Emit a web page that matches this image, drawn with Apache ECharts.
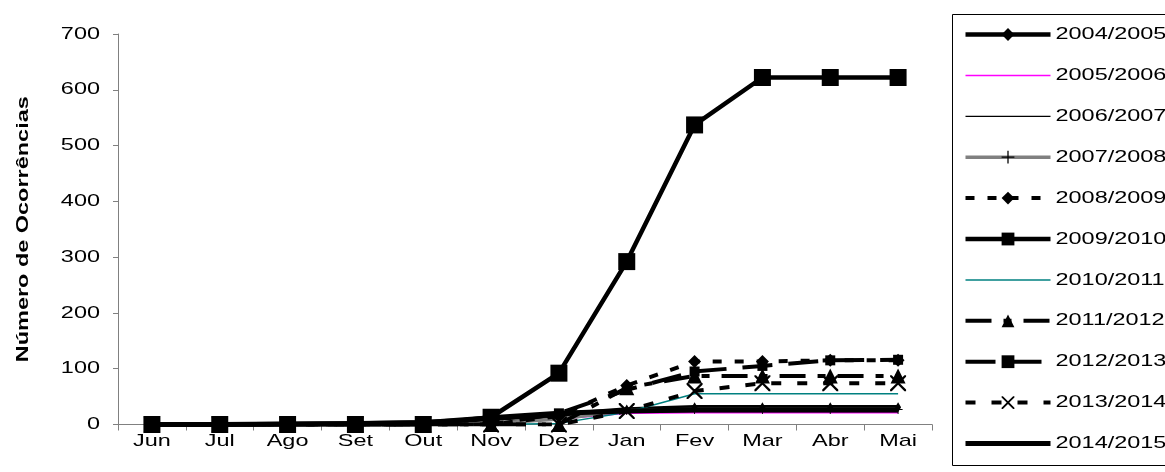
<!DOCTYPE html>
<html>
<head>
<meta charset="utf-8">
<script src="https://cdn.jsdelivr.net/npm/echarts@6/dist/echarts.min.js"></script>
<style>
  html, body { margin: 0; padding: 0; background: #fff; }
  #chart { width: 1165px; height: 472px; }
</style>
</head>
<body>
<div id="chart"></div>
<script>
// Months of the season (June to May)
const months = ['Jun', 'Jul', 'Ago', 'Set', 'Out', 'Nov', 'Dez', 'Jan', 'Fev', 'Mar', 'Abr', 'Mai'];

// Cumulative occurrences per season
const s2004_2005 = [0, 0, 1, 2, 4, 10, 18, 27, 31, 31, 31, 31];
const s2005_2006 = [0, 0, 0, 0, 0, 2, 10, 20, 21, 21, 21, 21];
const s2006_2007 = [0, 0, 0, 0, 0, 3, 14, 22, 23, 23, 23, 23];
const s2007_2008 = [0, 0, 0, 0, 0, 2, 10, 25, 27, 27, 27, 27];
const s2008_2009 = [0, 0, 0, 0, 0, 0, 15, 70, 113, 113, 115, 115];
const s2009_2010 = [0, 0, 0, 0, 0, 13, 92, 292, 537, 622, 622, 622];
const s2010_2011 = [0, 0, 0, 0, 0, 0, 2, 22, 55, 55, 55, 55];
const s2011_2012 = [0, 0, 0, 0, 0, 0, 0, 66, 87, 87, 87, 87];
const s2012_2013 = [0, 0, 0, 0, 0, 0, 20, 62, 95, 105, 115, 116];
const s2013_2014 = [0, 0, 0, 0, 0, 0, 0, 24, 60, 74, 74, 74];
const s2014_2015 = [0, 0, 1, 2, 3, 12, 20, 24, 26, 26, 26, 26];

const yTicks = { min: 0, max: 700, step: 100 };

const FONT = 'Liberation Sans, Arial, sans-serif';
// The labels use a wide-set lettering: glyphs are stretched along the text direction
const TEXT_STRETCH = 1.38;

const plusPath = 'path://M9,0H11V9H20V11H11V20H9V11H0V9H9Z';
const crossPath = 'path://M0,0L2,0L10,8L18,0L20,0L20,2L12,10L20,18L20,20L18,20L10,12L2,20L0,20L0,18L8,10L0,2Z';

function line(name, data, opts) {
  return Object.assign({
    name: name,
    type: 'line',
    data: data,
    symbol: 'none',
    animation: false,
    lineStyle: { color: '#000', width: 1 },
    itemStyle: { color: '#000' },
    emphasis: { disabled: true }
  }, opts);
}

const series = [
  line('2004/2005', s2004_2005, {
    lineStyle: { color: '#000', width: 4.5 },
    symbol: 'diamond', symbolSize: [6, 10]
  }),
  line('2005/2006', s2005_2006, {
    lineStyle: { color: '#FF00FF', width: 1.5 },
    itemStyle: { color: '#FF00FF' }
  }),
  line('2006/2007', s2006_2007, {
    lineStyle: { color: '#000', width: 1.2 }
  }),
  line('2007/2008', s2007_2008, {
    lineStyle: { color: '#808080', width: 3.5 },
    itemStyle: { color: '#000' },
    symbol: plusPath, symbolSize: 9
  }),
  line('2008/2009', s2008_2009, {
    lineStyle: { color: '#000', width: 4, type: [9, 13] },
    symbol: 'diamond', symbolSize: 13
  }),
  line('2009/2010', s2009_2010, {
    lineStyle: { color: '#000', width: 4.5 },
    symbol: 'rect', symbolSize: 17
  }),
  line('2010/2011', s2010_2011, {
    lineStyle: { color: '#008080', width: 1.5 },
    itemStyle: { color: '#008080' }
  }),
  line('2011/2012', s2011_2012, {
    lineStyle: { color: '#000', width: 4, type: [26, 12, 8, 12] },
    symbol: 'triangle', symbolSize: 15
  }),
  line('2012/2013', s2012_2013, {
    lineStyle: { color: '#000', width: 4, type: [30, 16] },
    symbol: 'rect', symbolSize: 10
  }),
  line('2013/2014', s2013_2014, {
    lineStyle: { color: '#000', width: 4, type: [10, 16] },
    symbol: crossPath, symbolSize: 16
  }),
  line('2014/2015', s2014_2015, {
    lineStyle: { color: '#000', width: 5 }
  })
];

// Legend entries: series drawn without markers show only their line
const legendData = series.map(s => (
  s.symbol === 'none'
    ? { name: s.name, itemStyle: { opacity: 0 } }
    : { name: s.name }
));

const chart = echarts.init(document.getElementById('chart'), null, { renderer: 'canvas' });

chart.setOption({
  animation: false,
  backgroundColor: '#fff',
  textStyle: { fontFamily: FONT },
  grid: { left: 118, right: 233, top: 34, bottom: 47.5, containLabel: false },
  xAxis: {
    type: 'category',
    data: months,
    boundaryGap: true,
    axisLine: { lineStyle: { color: '#808080', width: 1 } },
    axisTick: { show: true, length: 6, lineStyle: { color: '#808080' }, interval: 0 },
    axisLabel: { color: '#000', fontSize: 17, fontFamily: FONT, margin: 8, interval: 0 },
    splitLine: { show: false }
  },
  yAxis: {
    type: 'value',
    min: yTicks.min,
    max: yTicks.max,
    interval: yTicks.step,
    name: 'Número de Ocorrências',
    nameLocation: 'middle',
    nameGap: 86,
    nameRotate: 90,
    nameTextStyle: { color: '#000', fontSize: 17, fontWeight: 'bold', fontFamily: FONT },
    axisLine: { show: true, lineStyle: { color: '#808080', width: 1 } },
    axisTick: { show: true, length: 5, lineStyle: { color: '#808080' } },
    axisLabel: { color: '#000', fontSize: 17, fontFamily: FONT, margin: 18 },
    splitLine: { show: false }
  },
  legend: {
    orient: 'vertical',
    left: 963,
    top: 26,
    itemWidth: 85,
    itemHeight: 16,
    itemGap: 23.9,
    padding: 0,
    selectedMode: false,
    lineStyle: { width: 'inherit', type: 'inherit' },
    textStyle: { color: '#000', fontSize: 17, fontFamily: FONT },
    data: legendData
  },
  graphic: [{
    type: 'rect',
    silent: true,
    shape: { x: 952.5, y: 14.5, width: 320, height: 451 },
    style: { fill: 'none', stroke: '#000', lineWidth: 1 }
  }],
  series: series
});

// Widen every label along its own reading direction, keeping its anchor in place
function stretchText(el) {
  if (el.type === 'text') {
    el.originX = el.style.x || 0;
    el.originY = el.style.y || 0;
    el.scaleX = TEXT_STRETCH;
    el.markRedraw();
  }
}
const zr = chart.getZr();
zr.storage.getRoots().forEach(root => {
  stretchText(root);
  if (root.traverse) root.traverse(stretchText);
});
zr.refreshImmediately();
</script>
</body>
</html>
